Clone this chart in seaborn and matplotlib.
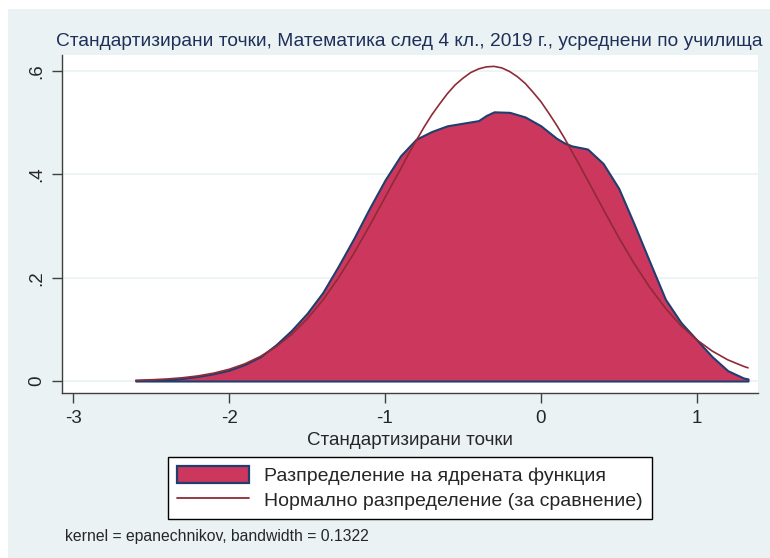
import numpy as np
import pandas as pd
import seaborn as sns
import matplotlib.pyplot as plt
from matplotlib.patches import Patch, Rectangle
from matplotlib.lines import Line2D

# стойности, прочетени от графиката
x_kde = [-2.6, -2.5, -2.4, -2.3, -2.2, -2.1, -2.0, -1.9, -1.8, -1.7, -1.6, -1.5,
         -1.4, -1.3, -1.2, -1.1, -1.0, -0.9, -0.8, -0.7, -0.6, -0.5, -0.4, -0.35,
         -0.3, -0.2, -0.1, 0.0, 0.1, 0.15, 0.2, 0.3, 0.4, 0.5, 0.6, 0.7, 0.8,
         0.9, 1.0, 1.1, 1.2, 1.3, 1.33]
y_kde = [0.001, 0.002, 0.003, 0.005, 0.009, 0.014, 0.021, 0.032, 0.047, 0.070,
         0.098, 0.131, 0.171, 0.222, 0.276, 0.334, 0.389, 0.436, 0.468, 0.483,
         0.494, 0.499, 0.504, 0.514, 0.521, 0.520, 0.511, 0.494, 0.470, 0.461,
         0.455, 0.449, 0.421, 0.373, 0.303, 0.230, 0.158, 0.113, 0.080, 0.047,
         0.020, 0.006, 0.004]

x_norm = [-2.6, -2.5, -2.4, -2.3, -2.2, -2.1, -2.0, -1.9, -1.8, -1.7, -1.6, -1.5,
          -1.4, -1.3, -1.2, -1.1, -1.0, -0.95, -0.9, -0.85, -0.8, -0.75, -0.7,
          -0.65, -0.6, -0.55, -0.5, -0.45, -0.4, -0.35, -0.3, -0.25, -0.2, -0.15,
          -0.1, -0.05, 0.0, 0.05, 0.1, 0.15, 0.2, 0.25, 0.3, 0.35, 0.4, 0.5, 0.6,
          0.7, 0.8, 0.9, 1.0, 1.1, 1.2, 1.3, 1.33]
y_norm = [0.0014, 0.0024, 0.0039, 0.0063, 0.0099, 0.0152, 0.0227, 0.0332, 0.0475,
          0.066, 0.090, 0.120, 0.156, 0.199, 0.247, 0.300, 0.355, 0.383, 0.410,
          0.439, 0.465, 0.491, 0.515, 0.536, 0.556, 0.573, 0.586, 0.597, 0.604,
          0.608, 0.609, 0.606, 0.599, 0.589, 0.576, 0.559, 0.541, 0.519, 0.496,
          0.471, 0.444, 0.417, 0.389, 0.361, 0.333, 0.278, 0.227, 0.181, 0.141,
          0.107, 0.080, 0.058, 0.041, 0.0286, 0.0255]

y_ticks = [0, 0.2, 0.4, 0.6]
y_ticklabels = ["0", ".2", ".4", ".6"]
x_ticks = [-3, -2, -1, 0, 1]

title = "Стандартизирани точки, Математика след 4 кл., 2019 г., усреднени по училища"
xlabel = "Стандартизирани точки"
legend_labels = ["Разпределение на ядрената функция", "Нормално разпределение (за сравнение)"]
note = "kernel = epanechnikov, bandwidth = 0.1322"

bg = "#EAF2F3"
fill_c = "#CC375E"
edge_c = "#1F3F6E"
norm_c = "#8E2B37"

sns.set_style("white")
plt.rcParams['font.family'] = ['Liberation Sans', 'DejaVu Sans']

df_kde = pd.DataFrame({"x": x_kde, "y": y_kde})
df_norm = pd.DataFrame({"x": x_norm, "y": y_norm})

fig = plt.figure(figsize=(7.7, 5.58), dpi=100)
fig.patch.set_facecolor("white")
fig.patches.append(Rectangle((8 / 770, 0), 1, 1 - 9 / 558, transform=fig.transFigure,
                             facecolor=bg, edgecolor="none", zorder=-10))

ax = fig.add_axes([62 / 770, 1 - 393 / 558, 696 / 770, 338 / 558])
ax.set_zorder(1)
ax.set_facecolor("white")

for t in y_ticks:
    ax.axhline(t, color=bg, lw=1.2, zorder=1)

ax.fill_between(df_kde["x"], df_kde["y"], 0, facecolor=fill_c, edgecolor=edge_c,
                linewidth=1.5, zorder=2)
sns.lineplot(data=df_norm, x="x", y="y", color=norm_c, lw=1.2, ax=ax, zorder=3)

ax.set_xlim(-3.073, 1.394)
ax.set_ylim(-0.0232, 0.631)
ax.set_xticks(x_ticks)
ax.set_xticklabels([str(v) for v in x_ticks])
ax.set_yticks(y_ticks)
ax.set_yticklabels(y_ticklabels, rotation=90, va="center")
ax.set_xlabel(xlabel, fontsize=13.5, labelpad=4)
ax.set_ylabel("")

for s in ["top", "right"]:
    ax.spines[s].set_visible(False)
for s in ["left", "bottom"]:
    ax.spines[s].set_color("#404040")
    ax.spines[s].set_linewidth(1)
ax.tick_params(axis="both", direction="out", length=7, width=1, color="#404040",
               labelsize=13.5, pad=5, bottom=True, left=True)

fig.text(409 / 770, 1 - 42 / 558, title, ha="center", va="center", fontsize=13.8,
         color="#1E2F5A")

handles = [Patch(facecolor=fill_c, edgecolor=edge_c, linewidth=1.6),
           Line2D([0], [0], color=norm_c, lw=1.3)]
leg = fig.legend(handles, legend_labels, loc="center",
                 bbox_to_anchor=(410 / 770, 1 - 488 / 558), fontsize=14,
                 frameon=True, fancybox=False, edgecolor="black", framealpha=1,
                 handlelength=3.7, handleheight=0.95, borderpad=0.45, labelspacing=0.3,
                 handletextpad=0.8)
leg.get_frame().set_linewidth(1)

fig.text(65 / 770, 1 - 537 / 558, note, ha="left", va="center", fontsize=11.3)

fig.savefig("out.png", dpi=100, facecolor=fig.get_facecolor())
